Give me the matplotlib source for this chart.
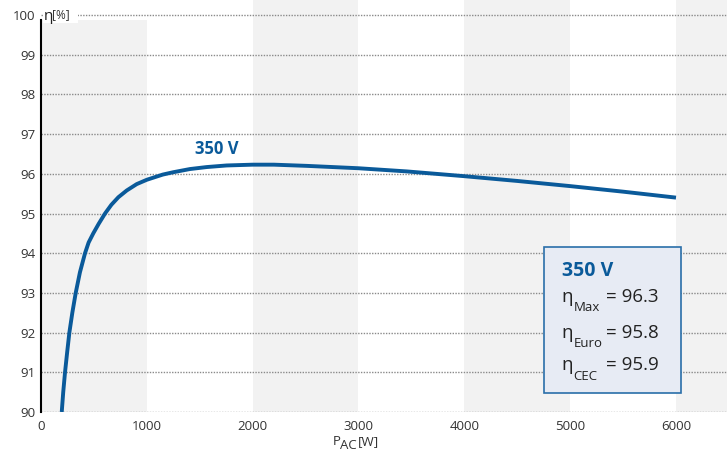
import matplotlib.pyplot as plt
from matplotlib.patches import Rectangle

plt.rcParams['font.family'] = ['Open Sans', 'DejaVu Sans']

# efficiency curve at 350 V
p_ac = [196, 210, 227, 247, 268, 296, 328, 368, 416, 450, 494, 545, 605, 665,
        731, 810, 904, 1000, 1150, 1250, 1408, 1566, 1754, 2000, 2200, 2511,
        3000, 3457, 4000, 4500, 5000, 5500, 6000]
eta = [90.0, 90.5, 91.0, 91.5, 92.0, 92.5, 93.0, 93.52, 94.0, 94.27, 94.5,
       94.74, 95.0, 95.22, 95.41, 95.58, 95.74, 95.85, 95.98, 96.04, 96.12,
       96.17, 96.21, 96.23, 96.23, 96.2, 96.14, 96.06, 95.94, 95.82, 95.69,
       95.55, 95.40]

x_ticks = [0, 1000, 2000, 3000, 4000, 5000, 6000]
y_ticks = [90, 91, 92, 93, 94, 95, 96, 97, 98, 99, 100]
band_starts = [0, 2000, 4000, 6000]

voltage = "350 V"
summary = [("Max", "96.3"), ("Euro", "95.8"), ("CEC", "95.9")]

BLUE = "#0a5a9a"
W, H = 727, 455

fig = plt.figure(figsize=(W / 100, H / 100), dpi=100)
ax = fig.add_axes([41 / W, 43 / H, 1 - 41 / W, 1 - 43 / H])
ax.set_xlim(0, 6482)
ax.set_ylim(90, 100.378)

# alternating grey bands (first one stops under the y label)
for i, b in enumerate(band_starts):
    top = 0.951 if i == 0 else 1.0
    ax.axvspan(b, b + 1000, ymin=0, ymax=top, color="#f2f2f2", lw=0, zorder=0)

for y in y_ticks:
    ax.axhline(y, color="#8a8a8a", lw=1.0, ls=(0, (1, 1)), zorder=1)

ax.plot(p_ac, eta, color=BLUE, lw=2.8, solid_capstyle="butt",
        solid_joinstyle="round", zorder=3)

for s in ["top", "right", "bottom"]:
    ax.spines[s].set_visible(False)
ax.spines["left"].set_color("black")
ax.spines["left"].set_linewidth(1.5)
ax.spines["left"].set_bounds(90, 99.87)

ax.set_xticks(x_ticks)
ax.set_yticks(y_ticks)
ax.tick_params(length=0, labelsize=9.5, colors="#333333", pad=6)
ax.tick_params(axis="y", pad=4)

# y label at top, white behind it hides the 100 gridline
ax.add_patch(Rectangle((15, 99.8), 330, 0.4, facecolor="white", edgecolor="none",
                       zorder=4))
ax.text(28, 99.97, "η", fontsize=11, color="#222222", ha="left", va="center", zorder=5)
ax.text(105, 100, "[%]", fontsize=8.5, color="#333333", ha="left", va="center", zorder=5)

# x label
fig.text(333 / W, 1 - 445 / H, "P", fontsize=9.5, color="#333333", ha="left", va="baseline")
fig.text(340 / W, 1 - 449 / H, "AC", fontsize=9.5, color="#333333", ha="left", va="baseline")
fig.text(358 / W, 1 - 445 / H, "[W]", fontsize=9.5, color="#333333", ha="left", va="baseline")

# curve label
ax.text(1660, 96.62, voltage, fontsize=12, fontweight="bold", color=BLUE,
        ha="center", va="center")

# summary box
ax.add_patch(Rectangle((4753, 90.479), 1294, 3.677, facecolor="#e7ebf4",
                       edgecolor="#2a6fa9", lw=1.2, zorder=5))
fig.text(561.7 / W, 1 - 276 / H, voltage, fontsize=14, fontweight="bold",
         color=BLUE, ha="left", va="baseline", zorder=6)
baselines = [301.7, 337.7, 370]
for (sub, val), yb in zip(summary, baselines):
    fig.text(561.7 / W, 1 - yb / H, "η", fontsize=13.5, color="#222222",
             ha="left", va="baseline", zorder=6)
    fig.text(573.3 / W, 1 - (yb + 9.5) / H, sub, fontsize=9.5, color="#222222",
             ha="left", va="baseline", zorder=6)
    fig.text(606 / W, 1 - yb / H, "= " + val, fontsize=13.5, color="#222222",
             ha="left", va="baseline", zorder=6)

fig.savefig("out.png", dpi=100)
